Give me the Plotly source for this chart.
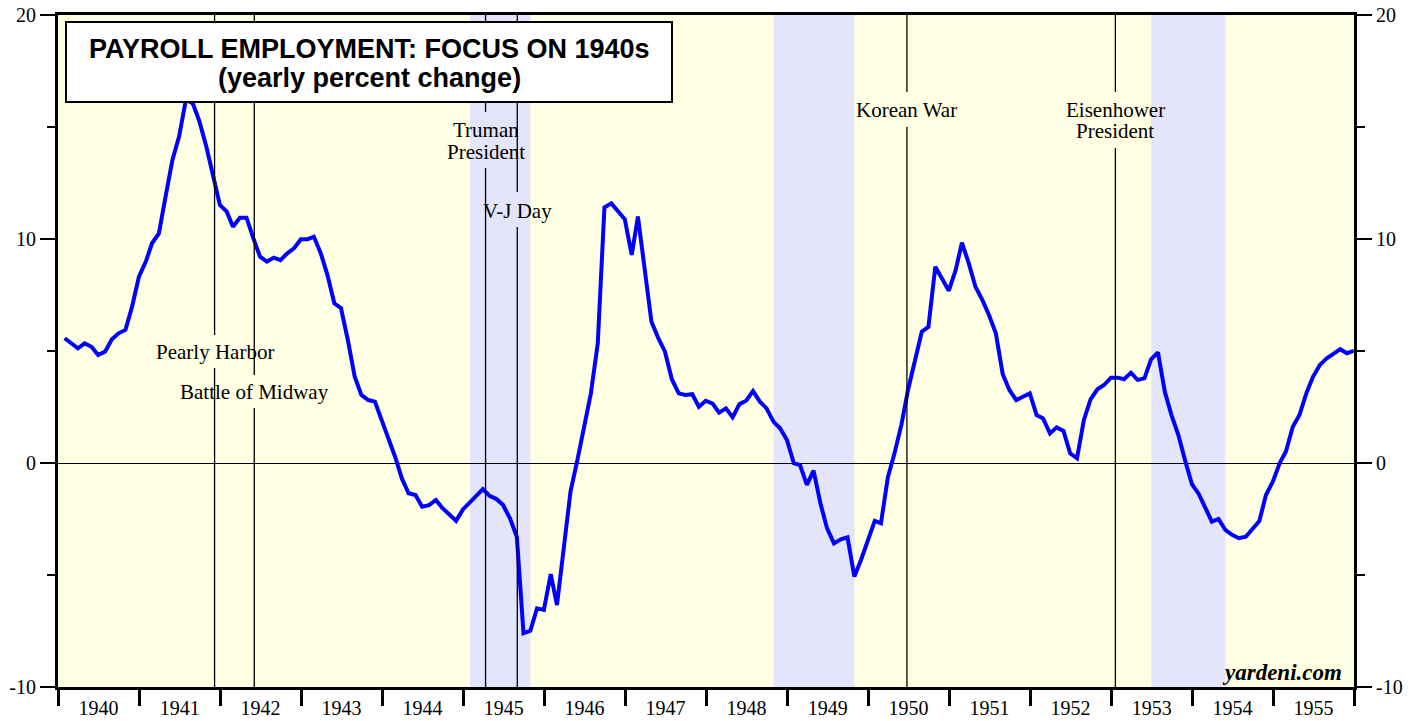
import plotly.graph_objects as go
import pandas as pd

# Payroll employment, yearly percent change, monthly 1940-1955
pct_1940 = [5.57, 5.35, 5.12, 5.34, 5.19, 4.82, 4.97, 5.52, 5.79, 5.94, 6.98, 8.32]
pct_1941 = [8.99, 9.81, 10.25, 11.89, 13.53, 14.57, 16.23, 16.05, 15.24, 14.12, 12.86, 11.52]
pct_1942 = [11.22, 10.55, 10.95, 10.95, 10.03, 9.21, 8.99, 9.17, 9.06, 9.36, 9.58, 9.99]
pct_1943 = [9.99, 10.1, 9.36, 8.39, 7.13, 6.91, 5.49, 3.85, 3.04, 2.81, 2.74, 1.92]
pct_1944 = [1.1, 0.28, -0.7, -1.35, -1.43, -1.95, -1.88, -1.65, -2.02, -2.29, -2.58, -2.07]
pct_1945 = [-1.77, -1.5, -1.17, -1.47, -1.61, -1.88, -2.47, -3.29, -7.6, -7.49, -6.49, -6.56]
pct_1946 = [-4.96, -6.34, -3.74, -1.28, 0.13, 1.55, 3.11, 5.34, 11.41, 11.59, 11.22, 10.88]
pct_1947 = [9.29, 11.0, 8.62, 6.31, 5.57, 4.97, 3.74, 3.11, 3.04, 3.07, 2.51, 2.78]
pct_1948 = [2.65, 2.25, 2.44, 2.04, 2.63, 2.78, 3.21, 2.74, 2.44, 1.85, 1.55, 1.03]
pct_1949 = [-0.01, -0.09, -0.98, -0.34, -1.8, -2.92, -3.59, -3.41, -3.32, -5.07, -4.33, -3.41]
pct_1950 = [-2.58, -2.69, -0.64, 0.43, 1.7, 3.26, 4.6, 5.86, 6.08, 8.76, 8.24, 7.69]
pct_1951 = [8.62, 9.84, 8.91, 7.87, 7.28, 6.61, 5.79, 3.97, 3.26, 2.81, 2.96, 3.11]
pct_1952 = [2.14, 1.99, 1.32, 1.59, 1.43, 0.43, 0.21, 1.92, 2.84, 3.29, 3.48, 3.81]
pct_1953 = [3.81, 3.74, 4.03, 3.71, 3.78, 4.63, 4.94, 3.18, 2.14, 1.25, 0.13, -0.94]
pct_1954 = [-1.38, -1.95, -2.62, -2.5, -2.99, -3.21, -3.36, -3.29, -2.95, -2.59, -1.43, -0.83]
pct_1955 = [0.0, 0.51, 1.62, 2.14, 3.11, 3.85, 4.38, 4.67, 4.87, 5.08, 4.9, 5.01]

values = (pct_1940 + pct_1941 + pct_1942 + pct_1943 + pct_1944 + pct_1945 + pct_1946 + pct_1947
          + pct_1948 + pct_1949 + pct_1950 + pct_1951 + pct_1952 + pct_1953 + pct_1954 + pct_1955)
dates = pd.date_range("1940-02-01", periods=len(values), freq="MS") - pd.Timedelta(days=1)

recession_starts = ["1945-02-01", "1948-11-01", "1953-07-01"]
recession_ends = ["1945-10-31", "1949-10-31", "1954-05-31"]

event_dates = ["1941-12-07", "1942-06-04", "1945-04-12", "1945-09-02", "1950-06-25", "1953-01-20"]
event_labels = ["Pearly Harbor", "Battle of Midway", "Truman<br>President", "V-J Day",
                "Korean War", "Eisenhower<br>President"]

y_ticks = [20, 10, 0, -10]

# label placement (layout, not data): y of each text line, gap in each event line
label_line_y = [[4.96], [3.17], [14.87, 13.88], [11.25], [15.76], [15.76, 14.82]]
gap_lo = [4.24, 2.46, 13.17, 10.54, 15.0, 14.06]
gap_hi = [5.71, 3.93, 15.67, 12.10, 16.56, 16.56]

SERIF = "Liberation Serif, Times New Roman, serif"
SANS = "Liberation Sans, Arial, sans-serif"

# page has an 8px body margin: figure is sized so the plot lands where the reference has it
W, H = 1411, 713
L, R, T, B = 50, 65, 7, 34
PW = W - L - R
PH = H - T - B


def px_x(px):  # page pixel -> paper x
    return (px - 8 - L) / PW


def px_y(py):  # page pixel -> paper y
    return (H - B - (py - 8)) / PH


fig = go.Figure()
fig.add_trace(go.Scatter(x=dates, y=values, mode="lines",
                         line=dict(color="#0000FF", width=4), hoverinfo="skip", showlegend=False))
fig.add_trace(go.Scatter(x=dates, y=values, mode="lines", yaxis="y2",
                         line=dict(color="rgba(0,0,0,0)", width=0), hoverinfo="skip", showlegend=False))

shapes = []
for s, e in zip(recession_starts, recession_ends):
    shapes.append(dict(type="rect", xref="x", yref="paper", x0=s, x1=e, y0=0, y1=1,
                       fillcolor="#E4E4FA", line=dict(width=0), layer="below"))
for d, lo, hi in zip(event_dates, gap_lo, gap_hi):
    shapes.append(dict(type="line", xref="x", yref="y", x0=d, x1=d, y0=-10, y1=lo,
                       line=dict(color="black", width=1.3), layer="above"))
    shapes.append(dict(type="line", xref="x", yref="y", x0=d, x1=d, y0=hi, y1=20,
                       line=dict(color="black", width=1.3), layer="above"))
# title box
shapes.append(dict(type="rect", xref="paper", yref="paper",
                   x0=px_x(66), x1=px_x(672), y0=px_y(102), y1=px_y(22),
                   fillcolor="white", line=dict(color="black", width=2), layer="above"))

annotations = []
for d, lab, ys in zip(event_dates, event_labels, label_line_y):
    for line_text, ly in zip(lab.split("<br>"), ys):
        annotations.append(dict(x=d, y=ly, xref="x", yref="y", text=line_text, showarrow=False,
                                font=dict(family=SERIF, size=21, color="black"),
                                xanchor="center", yanchor="middle"))
annotations.append(dict(x=px_x(369), y=px_y(49), xref="paper", yref="paper",
                        text="<b>PAYROLL EMPLOYMENT: FOCUS ON 1940s</b>", showarrow=False,
                        font=dict(family=SANS, size=27, color="black"),
                        xanchor="center", yanchor="middle"))
annotations.append(dict(x=px_x(369), y=px_y(78), xref="paper", yref="paper",
                        text="<b>(yearly percent change)</b>", showarrow=False,
                        font=dict(family=SANS, size=27, color="black"),
                        xanchor="center", yanchor="middle"))
annotations.append(dict(x=px_x(1344), y=px_y(672), xref="paper", yref="paper",
                        text="<b><i>yardeni.com</i></b>", showarrow=False,
                        font=dict(family=SERIF, size=23, color="black"),
                        xanchor="right", yanchor="middle"))

yaxis_common = dict(range=[-10, 20], tickmode="array", tickvals=y_ticks,
                    ticktext=[str(v) for v in y_ticks],
                    ticks="outside", ticklen=15, tickwidth=1.5, tickcolor="black",
                    minor=dict(dtick=5, tick0=0, ticks="outside", ticklen=8, tickwidth=1.5,
                               tickcolor="black", showgrid=False),
                    tickfont=dict(family=SERIF, size=20, color="black"),
                    ticklabeloverflow="allow",
                    showgrid=False, showline=True, linecolor="black", linewidth=3,
                    fixedrange=True, automargin=False)

fig.update_layout(
    width=W, height=H,
    margin=dict(l=L, r=R, t=T, b=B),
    paper_bgcolor="white", plot_bgcolor="#FFFFE3",
    showlegend=False,
    xaxis=dict(type="date", range=["1940-01-01", "1956-01-01"],
               tick0="1940-01-01", dtick="M12", tickformat="%Y", ticklabelmode="period",
               ticks="outside", ticklen=16, tickwidth=3, tickcolor="black",
               tickfont=dict(family=SERIF, size=20, color="black"),
               ticklabeloverflow="allow",
               showgrid=False, showline=True, linecolor="black", linewidth=3, mirror=True,
               zeroline=False, automargin=False, fixedrange=True, ticklabelstandoff=-15),
    yaxis=dict(**yaxis_common, side="left", zeroline=True, zerolinecolor="black", zerolinewidth=1),
    yaxis2=dict(**yaxis_common, side="right", overlaying="y", matches="y", zeroline=False),
    shapes=shapes,
    annotations=annotations,
)

fig.write_html("out.html")
